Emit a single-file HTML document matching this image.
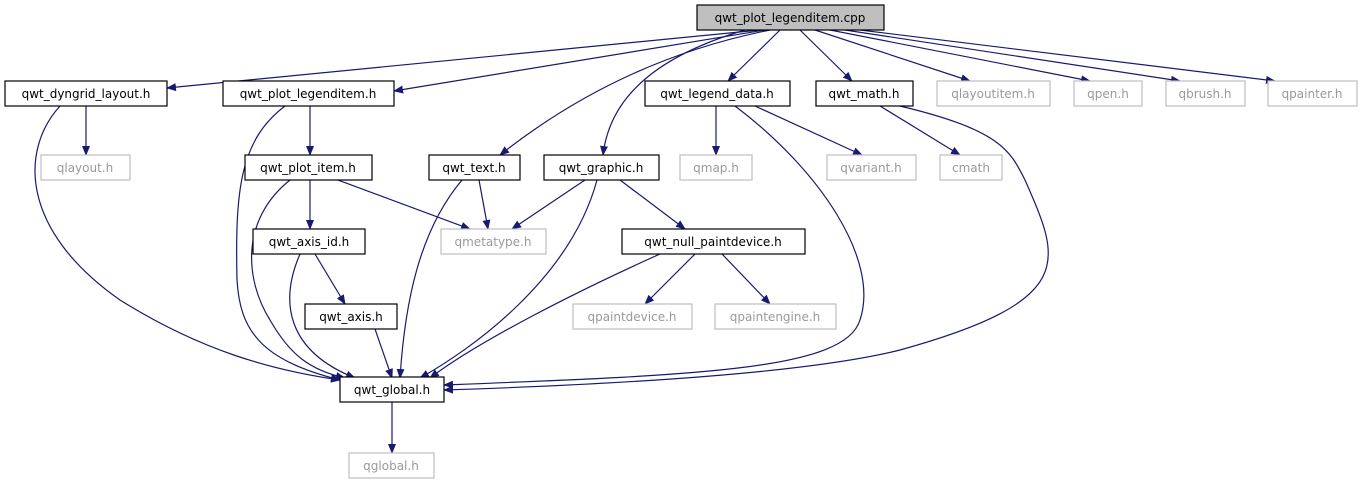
<!DOCTYPE html>
<html><head><meta charset="utf-8"><style>
html,body{margin:0;padding:0;background:#fff;width:1362px;height:485px;overflow:hidden}
svg text{font-family:"DejaVu Sans","Liberation Sans",sans-serif;font-size:12px;text-anchor:middle}
</style></head><body>
<svg width="1362" height="485" viewBox="0 0 1362 485" xmlns="http://www.w3.org/2000/svg">
<defs><marker id="a" markerWidth="10" markerHeight="8" refX="9" refY="4" orient="auto" markerUnits="userSpaceOnUse"><path d="M0,0 L10,4 L0,8 z" fill="#191970"/></marker></defs>
<g fill="none" stroke="#191970" stroke-width="1.2" marker-end="url(#a)">
<path d="M760,30 L167,88"/>
<path d="M765,30 L394,91"/>
<path d="M770,30 Q620,60 500,155"/>
<path d="M745,30 C660,55 610,95 603,155"/>
<path d="M780,30 L728,81"/>
<path d="M800,30 L852,81"/>
<path d="M815,30 L970,81"/>
<path d="M830,30 L1090,81"/>
<path d="M845,30 L1180,81"/>
<path d="M860,30 L1275,81"/>
<path d="M86,106 L86,155"/>
<path d="M60,106 C20,150 20,230 120,300 C200,350 270,370 340,380"/>
<path d="M310,106 L310,155"/>
<path d="M285,106 C240,140 235,190 237,280 C240,330 260,360 340,380"/>
<path d="M310,180 L310,229"/>
<path d="M338,180 L470,229"/>
<path d="M290,180 C240,220 245,280 270,320 C290,355 310,370 345,378"/>
<path d="M315,254 L345,304"/>
<path d="M300,254 C280,300 285,350 355,378"/>
<path d="M375,329 L392,378"/>
<path d="M479,180 L488,229"/>
<path d="M462,180 C420,230 405,300 400,378"/>
<path d="M585,180 L512,229"/>
<path d="M620,180 L685,229"/>
<path d="M597,180 C570,280 470,350 420,378"/>
<path d="M695,254 L645,304"/>
<path d="M722,254 L770,304"/>
<path d="M660,254 C580,290 480,340 430,378"/>
<path d="M716,106 L716,155"/>
<path d="M755,106 L862,155"/>
<path d="M735,106 C820,170 880,260 860,320 C845,370 700,375 444,385"/>
<path d="M880,106 L960,155"/>
<path d="M900,106 C1000,130 1010,150 1025,180 C1060,260 1080,300 900,350 C800,375 600,385 444,390"/>
<path d="M392,402 L392,453"/>
</g>
<g stroke-width="1.2">
<rect x="697" y="5" width="187" height="25" fill="#bfbfbf" stroke="#000"/>
<g fill="#fff" stroke="#000">
<rect x="5" y="81" width="162" height="25"/>
<rect x="223" y="81" width="171" height="25"/>
<rect x="645" y="81" width="145" height="25"/>
<rect x="816" y="81" width="97" height="25"/>
<rect x="245" y="155" width="127" height="25"/>
<rect x="429" y="155" width="91" height="25"/>
<rect x="544" y="155" width="115" height="25"/>
<rect x="253" y="229" width="112" height="25"/>
<rect x="622" y="229" width="183" height="25"/>
<rect x="305" y="304" width="92" height="25"/>
<rect x="340" y="377" width="104" height="25"/>
</g>
<g fill="#fff" stroke="#bfbfbf">
<rect x="937" y="81" width="113" height="25"/>
<rect x="1074" y="81" width="68" height="25"/>
<rect x="1166" y="81" width="79" height="25"/>
<rect x="1268" y="81" width="89" height="25"/>
<rect x="41" y="155" width="89" height="25"/>
<rect x="680" y="155" width="72" height="25"/>
<rect x="827" y="155" width="89" height="25"/>
<rect x="940" y="155" width="62" height="25"/>
<rect x="441" y="229" width="105" height="25"/>
<rect x="573" y="304" width="119" height="25"/>
<rect x="715" y="304" width="121" height="25"/>
<rect x="349" y="453" width="85" height="25"/>
</g>
</g>
<g fill="#000">
<text x="790" y="22">qwt_plot_legenditem.cpp</text>
<text x="86" y="98">qwt_dyngrid_layout.h</text>
<text x="308" y="98">qwt_plot_legenditem.h</text>
<text x="717" y="98">qwt_legend_data.h</text>
<text x="864" y="98">qwt_math.h</text>
<text x="308" y="172">qwt_plot_item.h</text>
<text x="474" y="172">qwt_text.h</text>
<text x="601" y="172">qwt_graphic.h</text>
<text x="309" y="246">qwt_axis_id.h</text>
<text x="713" y="246">qwt_null_paintdevice.h</text>
<text x="351" y="321">qwt_axis.h</text>
<text x="392" y="394">qwt_global.h</text>
</g>
<g fill="#9a9a9a">
<text x="993" y="98">qlayoutitem.h</text>
<text x="1108" y="98">qpen.h</text>
<text x="1205" y="98">qbrush.h</text>
<text x="1312" y="98">qpainter.h</text>
<text x="85" y="172">qlayout.h</text>
<text x="716" y="172">qmap.h</text>
<text x="871" y="172">qvariant.h</text>
<text x="971" y="172">cmath</text>
<text x="493" y="246">qmetatype.h</text>
<text x="632" y="321">qpaintdevice.h</text>
<text x="775" y="321">qpaintengine.h</text>
<text x="391" y="470">qglobal.h</text>
</g>
</svg>
</body></html>
